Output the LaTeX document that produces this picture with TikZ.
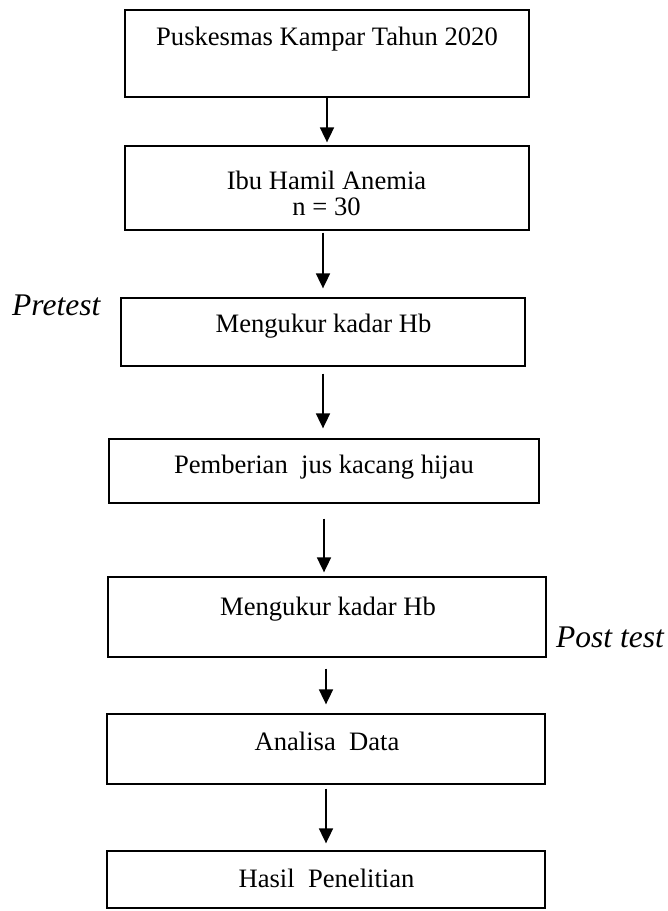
\documentclass[tikz,border=0pt]{standalone}
\usepackage{fontspec}
\setmainfont{Liberation Serif}
\usetikzlibrary{arrows.meta}
\tikzset{
  box/.style={draw=black, line width=1.3pt, rectangle, inner sep=0pt},
  txt/.style={anchor=base, inner sep=0pt, font=\fontsize{26.6}{30}\selectfont},
  side/.style={anchor=base west, inner sep=0pt, font=\fontsize{31.5}{34}\selectfont\itshape},
  arr/.style={line width=1.8pt, -{Triangle[length=15pt,width=14pt]}}
}
\begin{document}
\begin{tikzpicture}[x=1pt,y=-1pt]
\useasboundingbox (0,0) rectangle (668,911);
% boxes
\node[box, minimum width=404pt, minimum height=87pt] (b1) at (327,53.5) {};
\node[box, minimum width=404pt, minimum height=84pt] (b2) at (327,188) {};
\node[box, minimum width=404pt, minimum height=68pt] (b3) at (323,332) {};
\node[box, minimum width=430pt, minimum height=64pt] (b4) at (324,471) {};
\node[box, minimum width=438pt, minimum height=80pt] (b5) at (327,617) {};
\node[box, minimum width=438pt, minimum height=70pt] (b6) at (326,749) {};
\node[box, minimum width=438pt, minimum height=57pt] (b7) at (326,879.5) {};
% texts
\node[txt] (t1) at (327,45) {Puskesmas Kampar Tahun 2020};
\node[txt] (t2a) at (326.5,189) {Ibu Hamil Anemia};
\node[txt] (t2b) at (326.5,215) {n = 30};
\node[txt] (t3) at (323.5,332) {Mengukur kadar Hb};
\node[txt] (t4) at (324,473) {Pemberian\ \ jus kacang hijau};
\node[txt] (t5) at (328,615) {Mengukur kadar Hb};
\node[txt] (t6) at (327,750) {Analisa\ \ Data};
\node[txt] (t7) at (326.5,887) {Hasil\ \ Penelitian};
\node[side] (pre) at (12,315) {Pretest};
\node[side] (post) at (556,647) {Post test};
% arrows
\draw[arr, shorten >=3pt] (b1.south) -- (b1.south |- b2.north);
\draw[arr, shorten <=2pt, shorten >=9pt] (b3.north |- b2.south) -- (b3.north);
\draw[arr, shorten <=7pt, shorten >=10pt] (b3.south) -- (b3.south |- b4.north);
\draw[arr, shorten <=15pt, shorten >=4pt] (b4.south) -- (b4.south |- b5.north);
\draw[arr, shorten <=11pt, shorten >=9pt] (b6.north |- b5.south) -- (b6.north);
\draw[arr, shorten <=4pt, shorten >=7pt] (b6.south) -- (b6.south |- b7.north);
\end{tikzpicture}
\end{document}
